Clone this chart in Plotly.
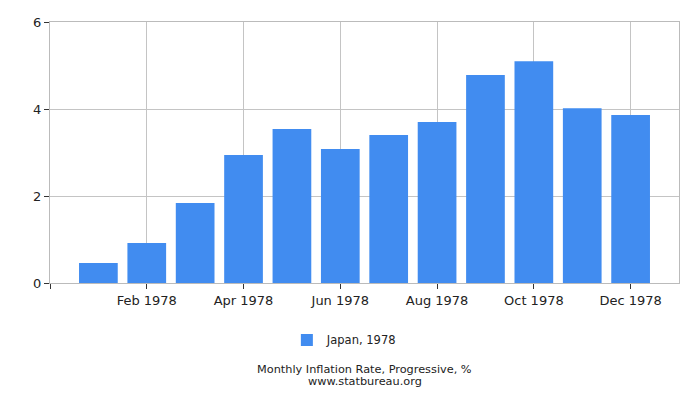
import plotly.graph_objects as go

# monthly progressive inflation, Japan 1978
months = ['Jan 1978', 'Feb 1978', 'Mar 1978', 'Apr 1978', 'May 1978', 'Jun 1978',
          'Jul 1978', 'Aug 1978', 'Sep 1978', 'Oct 1978', 'Nov 1978', 'Dec 1978']
values = [0.46, 0.92, 1.84, 2.94, 3.54, 3.08, 3.40, 3.70, 4.78, 5.10, 4.02, 3.86]
y_ticks = [0, 2, 4, 6]

pos = list(range(len(months)))
tick_pos = pos[1::2]
tick_text = months[1::2]

fig = go.Figure()
fig.add_trace(go.Bar(
    x=pos, y=values, name='Japan, 1978',
    marker=dict(color='#418CF0', line=dict(width=0)),
    width=0.8,
))

# page body adds 8px offset, margins compensate
fig.update_layout(
    width=700, height=400,
    margin=dict(l=42, r=29, t=14, b=125, autoexpand=False),
    paper_bgcolor='white', plot_bgcolor='white',
    font=dict(family='DejaVu Sans', size=13, color='#222'),
    showlegend=True,
    legend=dict(orientation='h', x=0.468, xanchor='center', y=-0.218, yanchor='middle',
                font=dict(size=11.5)),
)
fig.update_xaxes(
    range=[-1, 12], tickvals=[-1] + tick_pos, ticktext=[''] + tick_text,
    showgrid=True, gridcolor='#c4c4c4', gridwidth=1,
    ticks='outside', ticklen=5, tickcolor='#333',
    showline=True, linecolor='#bbbbbb', mirror=True, zeroline=False,
)
fig.update_yaxes(
    range=[0, 6], tickvals=y_ticks,
    showgrid=True, gridcolor='#c4c4c4', gridwidth=1,
    ticks='outside', ticklen=5, tickcolor='#333',
    showline=True, linecolor='#bbbbbb', mirror=True, zeroline=False,
)
fig.add_annotation(
    text='Monthly Inflation Rate, Progressive, %',
    xref='paper', yref='paper', x=0.5, y=-0.333, xanchor='center', yanchor='middle',
    showarrow=False, font=dict(size=11.3, color='#222'),
)
fig.add_annotation(
    text='www.statbureau.org',
    xref='paper', yref='paper', x=0.5, y=-0.379, xanchor='center', yanchor='middle',
    showarrow=False, font=dict(size=11.3, color='#222'),
)

fig.write_html("out.html")
